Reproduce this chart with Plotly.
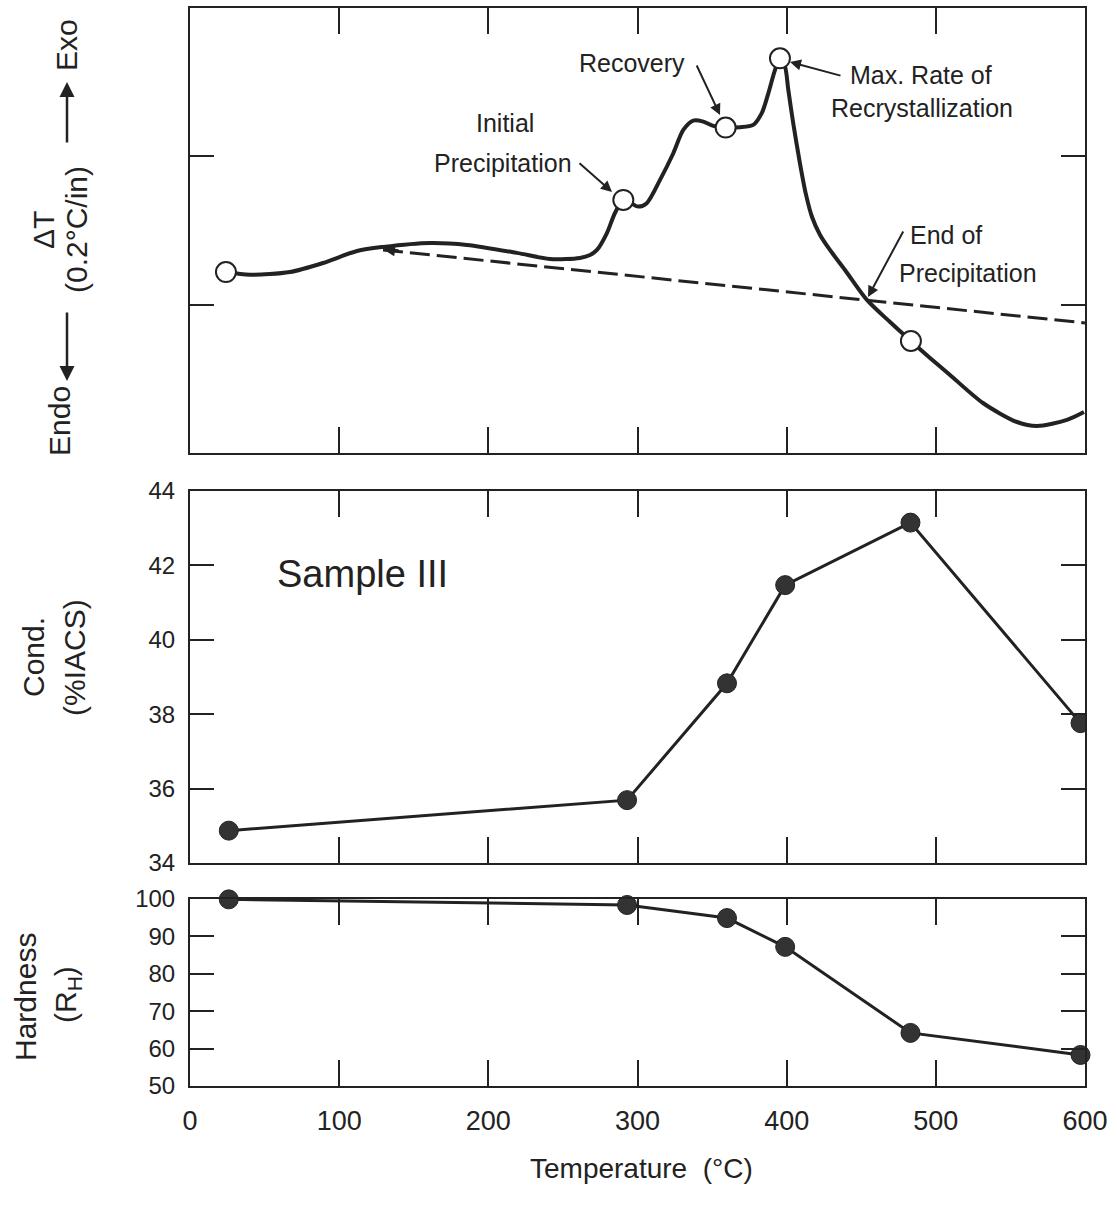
import plotly.graph_objects as go

# ---- DTA trace (temperature in deg C, Delta-T in chart divisions) ----
dta_temp = [24.1, 40.2, 67.0, 89.2, 112.0, 129.4, 160.9, 185.7, 219.2, 241.3,
            261.4, 268.2, 272.8, 279.5, 284.9, 290.5, 300.5, 306.2, 315.1, 324.0,
            330.7, 337.4, 344.1, 350.8, 359.1, 368.7, 377.6, 383.3, 387.7, 392.2,
            395.5, 398.9, 401.1, 404.4, 408.9, 413.0, 417.0, 422.4, 429.0, 439.1,
            453.8, 469.3, 483.3, 496.1, 509.5, 531.6, 554.4, 567.8, 587.9, 599.3]
dta_dt = [1.220, 1.202, 1.220, 1.281, 1.362, 1.389, 1.416, 1.403, 1.349, 1.308,
          1.315, 1.335, 1.369, 1.483, 1.618, 1.706, 1.661, 1.684, 1.841, 2.021,
          2.178, 2.241, 2.234, 2.205, 2.194, 2.196, 2.212, 2.291, 2.425, 2.583,
          2.661, 2.605, 2.448, 2.223, 1.953, 1.740, 1.591, 1.470, 1.369, 1.234,
          1.032, 0.883, 0.755, 0.641, 0.526, 0.337, 0.209, 0.182, 0.223, 0.276]

# open circles marking the annealing temperatures on the DTA curve
dta_mark_temp = [24.1, 290.5, 359.1, 395.5, 483.3]
dta_mark_dt = [1.220, 1.706, 2.194, 2.661, 0.755]

# extrapolated baseline (dashed)
base_temp = [129.4, 600.0]
base_dt = [1.369, 0.877]

# ---- property measurements after annealing ----
anneal_temp = [26, 293, 360, 399, 483, 597]
conductivity = [34.87, 35.69, 38.83, 41.47, 43.15, 37.76]   # %IACS
hardness = [99.9, 98.4, 94.9, 87.2, 64.2, 58.3]             # R_H

temp_ticks = [0, 100, 200, 300, 400, 500, 600]
cond_ticks = [34, 36, 38, 40, 42, 44]
hard_ticks = [50, 60, 70, 80, 90, 100]

INK = "#222222"
FONT = "Liberation Sans, Arial, sans-serif"

W, H = 1117, 1219
ML, MR, MT, MB = 190, 32, 8, 133
PW, PH = W - ML - MR, H - MT - MB


def pxx(x):
    return (x - ML) / PW


def pxy(y):
    return (H - MB - y) / PH


fig = go.Figure()

fig.add_trace(go.Scatter(x=base_temp, y=base_dt, mode="lines",
                         line=dict(color=INK, width=3, dash="20px,7px"),
                         xaxis="x", yaxis="y", hoverinfo="skip"))
fig.add_trace(go.Scatter(x=dta_temp, y=dta_dt, mode="lines",
                         line=dict(color=INK, width=4, shape="spline", smoothing=0.8),
                         xaxis="x", yaxis="y"))
fig.add_trace(go.Scatter(x=dta_mark_temp, y=dta_mark_dt, mode="markers",
                         marker=dict(size=20, color="white", line=dict(color=INK, width=2)),
                         xaxis="x", yaxis="y"))

fig.add_trace(go.Scatter(x=anneal_temp, y=conductivity, mode="lines+markers",
                         line=dict(color=INK, width=3),
                         marker=dict(size=19, color="#333333", line=dict(color=INK, width=1)),
                         xaxis="x2", yaxis="y2"))
fig.add_trace(go.Scatter(x=anneal_temp, y=hardness, mode="lines+markers",
                         line=dict(color=INK, width=3),
                         marker=dict(size=19, color="#333333", line=dict(color=INK, width=1)),
                         xaxis="x3", yaxis="y3", cliponaxis=False))

frame = dict(showline=True, linecolor=INK, linewidth=2, mirror="ticks",
             ticks="inside", tickcolor=INK, tickwidth=2, showgrid=False,
             zeroline=False, fixedrange=True)

xcommon = dict(frame, range=[0, 600], tickvals=temp_ticks, ticklen=26)

fig.update_layout(
    width=W, height=H,
    margin=dict(l=ML, r=MR, t=MT, b=MB, autoexpand=False),
    paper_bgcolor="white", plot_bgcolor="white",
    showlegend=False,
    font=dict(family=FONT, color=INK),
    xaxis=dict(xcommon, anchor="y", showticklabels=False),
    xaxis2=dict(xcommon, anchor="y2", showticklabels=False),
    xaxis3=dict(xcommon, anchor="y3", showticklabels=True,
                tickfont=dict(size=27, family=FONT, color=INK), ticklabelstandoff=10),
    yaxis=dict(frame, anchor="x", domain=[pxy(453), pxy(8)], range=[0, 3],
               tickvals=[1, 2], ticklen=24, showticklabels=False),
    yaxis2=dict(frame, anchor="x2", domain=[pxy(863), pxy(491)], range=[34, 44],
                tickvals=cond_ticks, ticklen=24,
                tickfont=dict(size=24, family=FONT, color=INK), ticklabelstandoff=8),
    yaxis3=dict(frame, anchor="x3", domain=[pxy(1086), pxy(899)], range=[50, 100],
                tickvals=hard_ticks, ticklen=24,
                tickfont=dict(size=24, family=FONT, color=INK), ticklabelstandoff=8),
)

ann = []


def text(s, x, y, size=25, angle=0, xanchor="center"):
    ann.append(dict(text=s, x=pxx(x), y=pxy(y), xref="paper", yref="paper",
                    showarrow=False, textangle=angle, xanchor=xanchor, yanchor="middle",
                    font=dict(size=size, family=FONT, color=INK)))


def arrow(tip, tail, width=2, size=1.1):
    ann.append(dict(text="", x=pxx(tip[0]), y=pxy(tip[1]), xref="paper", yref="paper",
                    showarrow=True, ax=tail[0] - tip[0], ay=tail[1] - tip[1],
                    axref="pixel", ayref="pixel", arrowhead=2, arrowsize=size,
                    arrowwidth=width, arrowcolor=INK))


# DTA event labels
text("Initial", 505, 123)
text("Precipitation", 503, 163)
arrow((612, 192), (578, 162))
text("Recovery", 632, 63)
arrow((720, 115), (696, 64))
text("Max. Rate of", 921, 75)
text("Recrystallization", 922, 108)
arrow((790, 62), (842, 76))
text("End of", 908, 235, xanchor="left")
text("Precipitation", 897, 273, xanchor="left")
arrow((868, 297), (904, 230))
# arrowhead at the start of the extrapolated baseline
arrow((383, 249), (400, 251), width=3, size=0.8)

text("Sample III", 362, 574, size=38)

# y-axis titles
text("Endo", 60, 421, size=30, angle=-90)
arrow((67, 381), (67, 311), width=2.5, size=1.2)
text("ΔT", 43, 230, size=30, angle=-90)
text("(0.2°C/in)", 76, 230, size=30, angle=-90)
arrow((67, 82), (67, 144), width=2.5, size=1.2)
text("Exo", 67, 45, size=30, angle=-90)

text("Cond.", 33, 657, size=30, angle=-90)
text("(%IACS)", 74, 658, size=30, angle=-90)
text("Hardness", 25, 997, size=30, angle=-90)
text("(R<sub>H</sub>)", 67, 995, size=30, angle=-90)

text("Temperature  (°C)", 641, 1168, size=28)

fig.update_layout(annotations=ann)

fig.write_html("out.html")
